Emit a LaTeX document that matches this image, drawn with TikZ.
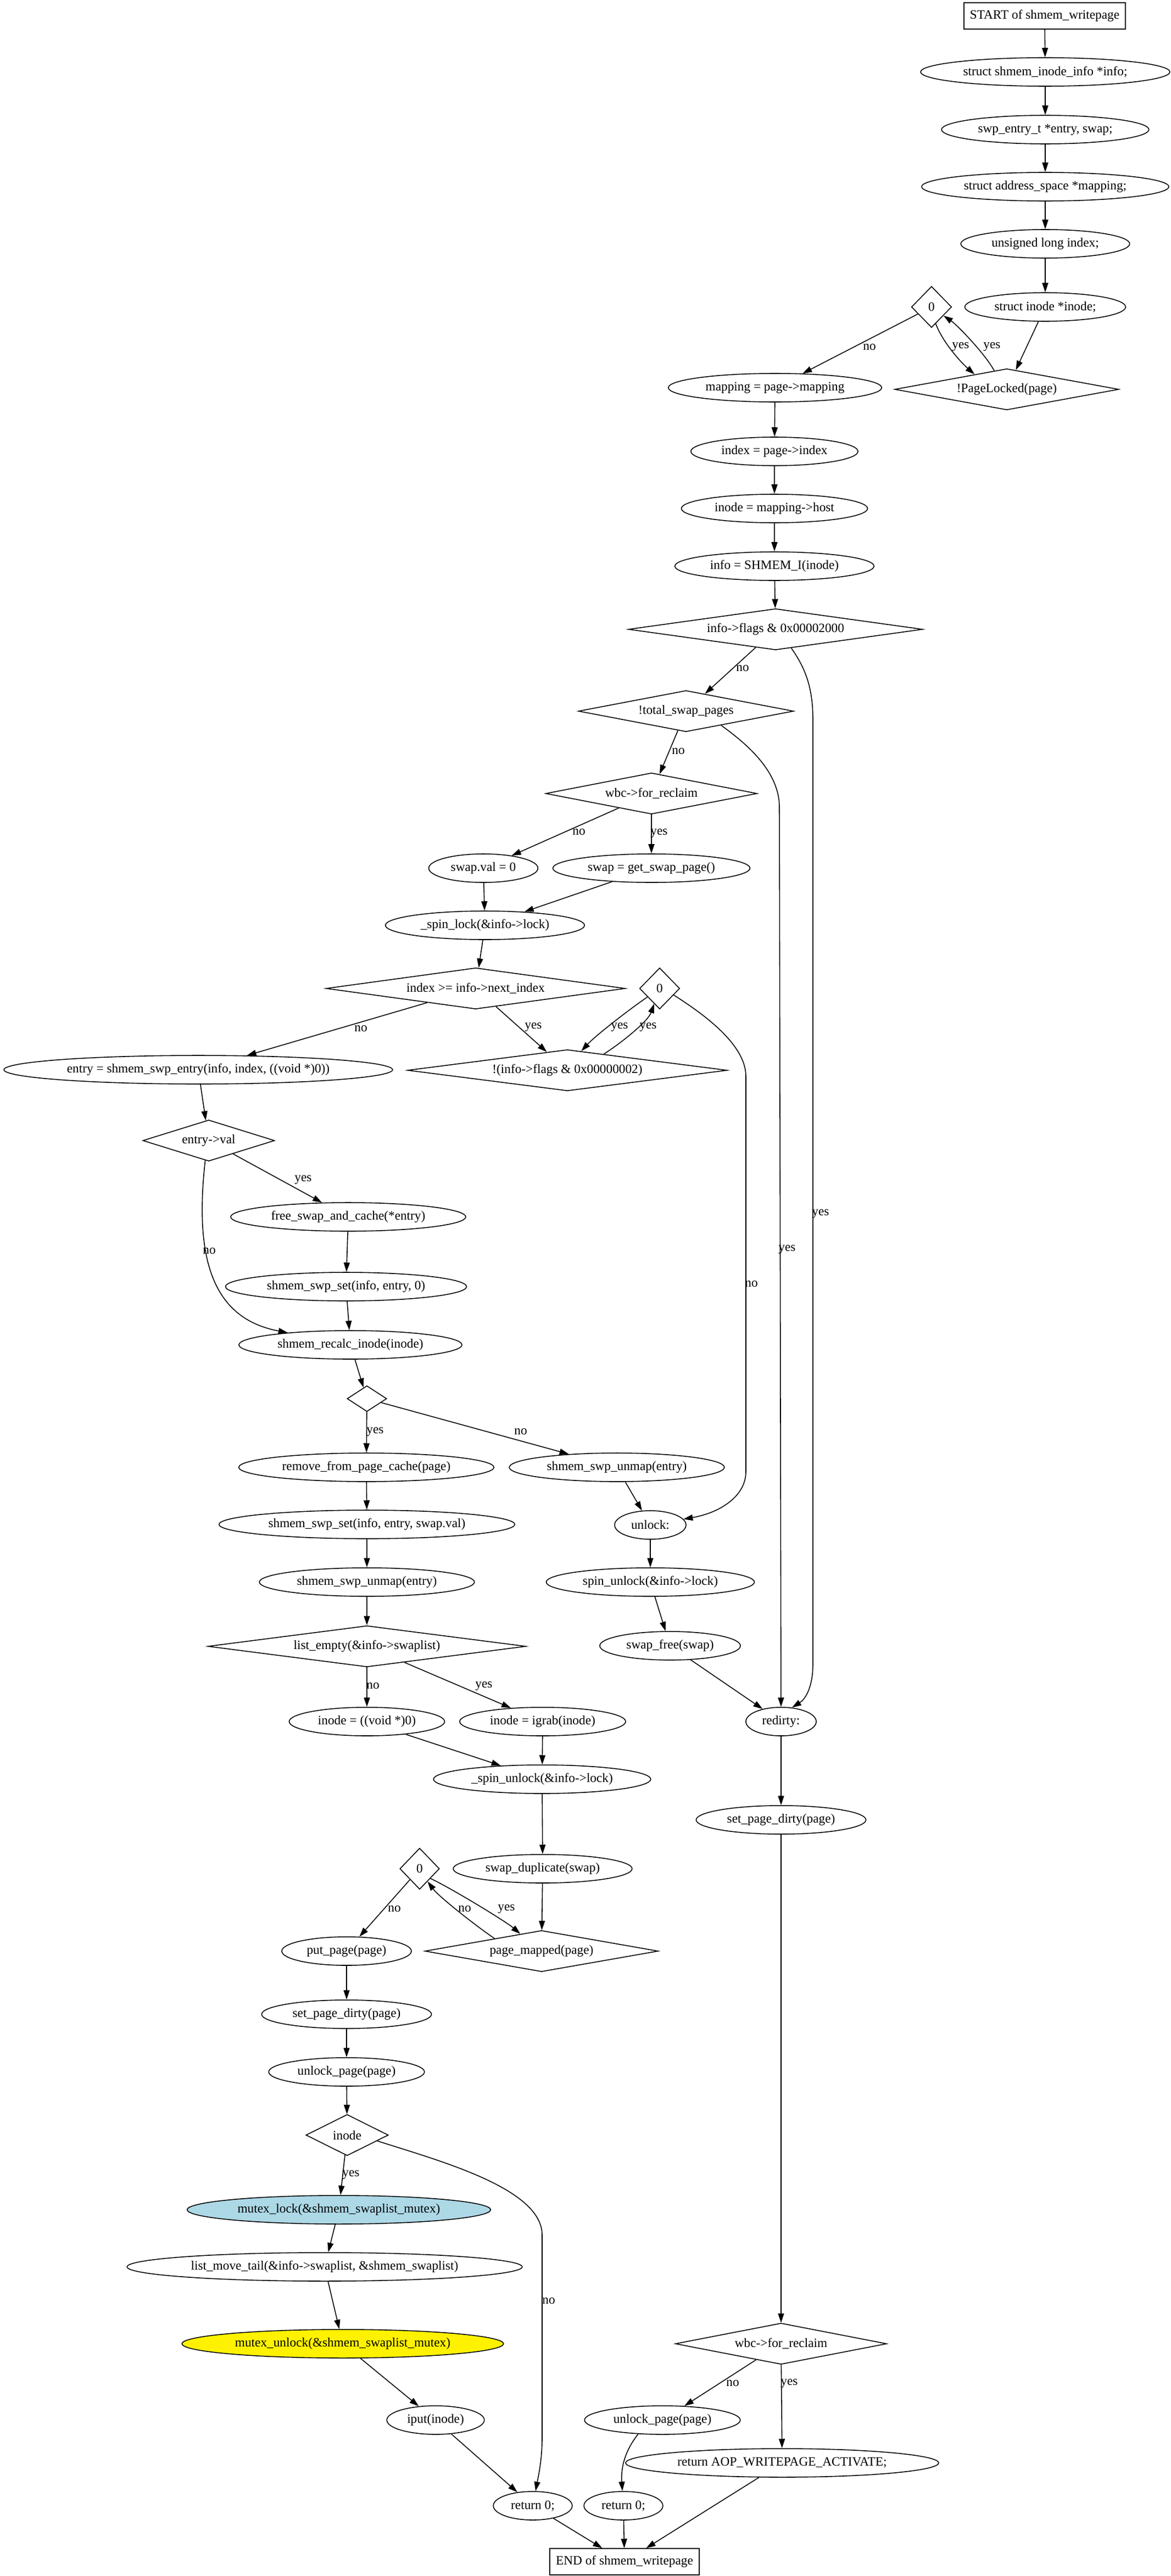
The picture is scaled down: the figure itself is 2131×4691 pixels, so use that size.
\documentclass[tikz,border=0pt]{standalone}
\usepackage{fontspec}
\setmainfont{Liberation Serif}
\usetikzlibrary{shapes.geometric,arrows.meta}
\definecolor{lightblue}{HTML}{ADD8E6}
\tikzset{
	blk/.style={ellipse, draw, line width=0.9pt, inner xsep=0.22cm, inner ysep=0pt, minimum height=1.04cm},
	term/.style={rectangle, draw, line width=0.9pt, inner xsep=0.22cm, inner ysep=0pt, minimum height=0.96cm},
	cond/.style={diamond, draw, line width=0.9pt, inner sep=0pt, minimum height=1.5cm},
	flow/.style={line width=0.9pt, -{Triangle[length=0.34cm,width=0.22cm]}},
	lbl/.style={inner sep=0pt}
}
\begin{document}
\begin{tikzpicture}[x=0.02cm, y=-0.02cm, font=\fontsize{13.26}{16}\selectfont]
		%%%%% START %%%%%
		\useasboundingbox (0,0) rectangle (2131,4691);
		\fill[white] (0,0) rectangle (2131,4691);
		
		\node[term] (start) at (1902,29) {START of shmem\_writepage};
		\node[blk] (decl_info) at (1903,131) {struct shmem\_inode\_info *info;};
		\node[blk] (decl_swp) at (1903,236) {swp\_entry\_t *entry, swap;};
		\node[blk] (decl_map) at (1903,340) {struct address\_space *mapping;};
		\node[blk] (decl_idx) at (1903,444) {unsigned long index;};
		\node[blk] (decl_inode) at (1903,559) {struct inode *inode;};
		\node[cond, minimum width=1.46cm, aspect=1] (dw0) at (1696,559) {0};
		\node[cond, minimum width=8.16cm, aspect=5.44] (locked) at (1833,709) {!PageLocked(page)};
		
		\node[blk] (get_map) at (1411,706) {mapping = page->mapping};
		\node[blk] (get_idx) at (1410,822) {index = page->index};
		\node[blk] (get_inode) at (1410,926) {inode = mapping->host};
		\node[blk] (get_info) at (1410,1031) {info = SHMEM\_I(inode)};
		\node[cond, minimum width=10.72cm, aspect=7.15] (tst_flags) at (1412,1146) {info->flags \& 0x00002000};
		\node[cond, minimum width=7.84cm, aspect=5.2] (tst_total) at (1249,1295) {!total\_swap\_pages};
		\node[cond, minimum width=7.7cm, aspect=5.1] (tst_wbc) at (1186,1445) {wbc->for\_reclaim};
		\node[blk] (swapval) at (880,1581) {swap.val = 0};
		\node[blk] (getswap) at (1186,1581) {swap = get\_swap\_page()};
		\node[blk] (spinlock) at (883,1685) {\_spin\_lock(\&info->lock)};
		\node[cond, minimum width=10.9cm, aspect=7.3] (tst_index) at (866,1800) {index >= info->next\_index};
		\node[cond, minimum width=1.46cm, aspect=1] (dw1) at (1201,1800) {0};
		\node[cond, minimum width=11.64cm, aspect=7.76] (tst_noflag) at (1033,1949) {!(info->flags \& 0x00000002)};
		\node[blk] (entry) at (361,1948) {entry = shmem\_swp\_entry(info, index, ((void *)0))};
		\node[cond, minimum width=4.8cm, aspect=3.2] (tst_entry) at (380,2077) {entry->val};
		\node[blk] (freeswap) at (634,2216) {free\_swap\_and\_cache(*entry)};
		\node[blk] (swpset0) at (630,2343) {shmem\_swp\_set(info, entry, 0)};
		\node[blk] (recalc) at (638,2449) {shmem\_recalc\_inode(inode)};
		
		\node[cond, minimum width=1.44cm, minimum height=0.94cm, aspect=1.53] (tst_empty) at (668,2547) {};
		\node[blk] (remove) at (667,2672) {remove\_from\_page\_cache(page)};
		\node[blk] (unmap_r) at (1123,2672) {shmem\_swp\_unmap(entry)};
		\node[blk] (unlock) at (1184,2777) {unlock:};
		\node[blk] (swpset) at (668,2776) {shmem\_swp\_set(info, entry, swap.val)};
		\node[blk] (unmap_l) at (668,2881) {shmem\_swp\_unmap(entry)};
		\node[blk] (spinunlock_r) at (1184,2881) {spin\_unlock(\&info->lock)};
		\node[cond, minimum width=11.58cm, aspect=7.72] (tst_list) at (668,2998) {list\_empty(\&info->swaplist)};
		\node[blk] (swapfree) at (1220,2997) {swap\_free(swap)};
		\node[blk] (void) at (668,3135) {inode = ((void *)0)};
		\node[blk] (igrab) at (988,3135) {inode = igrab(inode)};
		\node[blk] (redirty) at (1422,3135) {redirty:};
		\node[blk] (spinunlock_l) at (987,3240) {\_spin\_unlock(\&info->lock)};
		\node[blk] (setdirty_r) at (1422,3314) {set\_page\_dirty(page)};
		\node[blk] (dup) at (988,3403) {swap\_duplicate(swap)};
		\node[cond, minimum width=1.44cm, aspect=1] (dw2) at (764,3403) {0};
		\node[cond, minimum width=8.5cm, aspect=5.67] (tst_mapped) at (986,3553) {page\_mapped(page)};
		\node[blk] (putpage) at (631,3553) {put\_page(page)};
		\node[blk] (setdirty_l) at (631,3668) {set\_page\_dirty(page)};
		\node[blk] (unlockpage_l) at (631,3773) {unlock\_page(page)};
		\node[cond, minimum width=3cm, aspect=2] (tst_inode) at (632,3888) {inode};
		\node[blk, fill=lightblue] (mlock) at (617,4024) {mutex\_lock(\&shmem\_swaplist\_mutex)};
		\node[blk] (movetail) at (591,4128) {list\_move\_tail(\&info->swaplist, \&shmem\_swaplist)};
		\node[blk, fill=yellow] (munlock) at (624,4268) {mutex\_unlock(\&shmem\_swaplist\_mutex)};
		\node[blk] (iput) at (793,4407) {iput(inode)};
		\node[blk] (ret_l) at (970,4563) {return 0;};
		\node[cond, minimum width=7.7cm, aspect=5.1] (tst_wbc2) at (1422,4268) {wbc->for\_reclaim};
		\node[blk] (unlockpage_r) at (1206,4407) {unlock\_page(page)};
		\node[blk] (ret_aop) at (1424,4485) {return AOP\_WRITEPAGE\_ACTIVATE;};
		\node[blk] (ret_r) at (1135,4563) {return 0;};
		\node[term] (end) at (1137,4665) {END of shmem\_writepage};
		
		\draw[flow] (start) -- (decl_info);
		\draw[flow] (decl_info) -- (decl_swp);
		\draw[flow] (decl_swp) -- (decl_map);
		\draw[flow] (decl_map) -- (decl_idx);
		\draw[flow] (decl_idx) -- (decl_inode);
		\draw[flow] (decl_inode) -- (locked);
		\draw[flow] (dw0) -- (get_map) node[lbl] at (1583,632) {no};
		\draw[flow] (dw0.-76) .. controls (1718,627) and (1753,663) .. (locked.155) node[lbl] at (1749,632) {yes};
		\draw[flow] (locked.124) .. controls (1794,645) and (1743,592) .. (dw0.-36) node[lbl] at (1806,632) {yes};
		
		\draw[flow] (get_map) -- (get_idx);
		\draw[flow] (get_idx) -- (get_inode);
		\draw[flow] (get_inode) -- (get_info);
		\draw[flow] (get_info) -- (tst_flags);
		\draw[flow] (tst_flags) -- (tst_total) node[lbl] at (1352,1217) {no};
		\draw[flow] (tst_flags.-50) .. controls (1465,1215) and (1480,1250) .. (1480,1310) -- (1480,3030) .. controls (1480,3075) and (1465,3095) .. (redirty.52) node[lbl] at (1494,2211) {yes};
		\draw[flow] (tst_total) -- (tst_wbc) node[lbl] at (1235,1368) {no};
		\draw[flow] (tst_total.-22) .. controls (1350,1348) and (1419,1400) .. (1419,1470) -- (redirty) node[lbl] at (1433,2275) {yes};
		\draw[flow] (tst_wbc) -- (swapval) node[lbl] at (1054,1515) {no};
		\draw[flow] (tst_wbc) -- (getswap) node[lbl] at (1200,1518) {yes};
		\draw[flow] (swapval) -- (spinlock);
		\draw[flow] (getswap) -- (spinlock);
		\draw[flow] (spinlock) -- (tst_index);
		\draw[flow] (tst_index) -- (entry) node[lbl] at (657,1873) {no};
		\draw[flow] (tst_index) -- (tst_noflag) node[lbl] at (971,1871) {yes};
		\draw[flow] (dw1.-145) .. controls (1150,1835) and (1085,1885) .. (tst_noflag.54) node[lbl] at (1128,1871) {yes};
		\draw[flow] (tst_noflag.24) .. controls (1130,1900) and (1180,1860) .. (dw1.-110) node[lbl] at (1180,1871) {yes};
		\draw[flow] (dw1.-25) .. controls (1275,1843) and (1358,1900) .. (1358,1960) -- (1358,2680) .. controls (1358,2725) and (1310,2755) .. (unlock.10) node[lbl] at (1368,2338) {no};
		
		\draw[flow] (entry) -- (tst_entry);
		\draw[flow] (tst_entry) -- (freeswap) node[lbl] at (552,2149) {yes};
		\draw[flow] (tst_entry.-100) .. controls (355,2280) and (380,2400) .. (recalc.169) node[lbl] at (381,2278) {no};
		\draw[flow] (freeswap) -- (swpset0);
		\draw[flow] (swpset0) -- (recalc);
		\draw[flow] (recalc) -- (tst_empty);
		\draw[flow] (tst_empty) -- (remove) node[lbl] at (683,2607) {yes};
		\draw[flow] (tst_empty) -- (unmap_r) node[lbl] at (948,2607) {no};
		\draw[flow] (remove) -- (swpset);
		\draw[flow] (swpset) -- (unmap_l);
		\draw[flow] (unmap_l) -- (tst_list);
		\draw[flow] (unmap_r) -- (unlock);
		\draw[flow] (unlock) -- (spinunlock_r);
		\draw[flow] (spinunlock_r) -- (swapfree);
		\draw[flow] (swapfree) -- (redirty);
		\draw[flow] (tst_list) -- (void) node[lbl] at (679,3070) {no};
		\draw[flow] (tst_list) -- (igrab) node[lbl] at (881,3070) {yes};
		\draw[flow] (void) -- (spinunlock_l);
		\draw[flow] (igrab) -- (spinunlock_l);
		\draw[flow] (spinunlock_l) -- (dup);
		\draw[flow] (redirty) -- (setdirty_r);
		\draw[flow] (dup) -- (tst_mapped);
		\draw[flow] (dw2) -- (putpage) node[lbl] at (718,3476) {no};
		\draw[flow] (tst_mapped.165) .. controls (869,3509) and (799,3454) .. (dw2.-58) node[lbl] at (846,3476) {no};
		\draw[flow] (dw2.-42) .. controls (819,3437) and (921,3499) .. (tst_mapped.141) node[lbl] at (922,3476) {yes};
		
		\draw[flow] (putpage) -- (setdirty_l);
		\draw[flow] (setdirty_l) -- (unlockpage_l);
		\draw[flow] (unlockpage_l) -- (tst_inode);
		\draw[flow] (tst_inode) -- (mlock) node[lbl] at (639,3960) {yes};
		\draw[flow] (tst_inode.-11) .. controls (800,3935) and (987,3985) .. (987,4070) -- (987,4440) .. controls (987,4480) and (980,4510) .. (ret_l) node[lbl] at (999,4190) {no};
		\draw[flow] (mlock) -- (movetail);
		\draw[flow] (movetail) -- (munlock);
		\draw[flow] (munlock) -- (iput);
		\draw[flow] (iput) -- (ret_l);
		\draw[flow] (setdirty_r) -- (tst_wbc2);
		\draw[flow] (tst_wbc2) -- (unlockpage_r) node[lbl] at (1334,4340) {no};
		\draw[flow] (tst_wbc2) -- (ret_aop) node[lbl] at (1437,4340) {yes};
		\draw[flow] (unlockpage_r.-150) .. controls (1140,4460) and (1130,4490) .. (ret_r);
		\draw[flow] (ret_l) -- (end);
		\draw[flow] (ret_r) -- (end);
		\draw[flow] (ret_aop) -- (end);
		
		%%%%% END %%%%%
\end{tikzpicture}
\end{document}
